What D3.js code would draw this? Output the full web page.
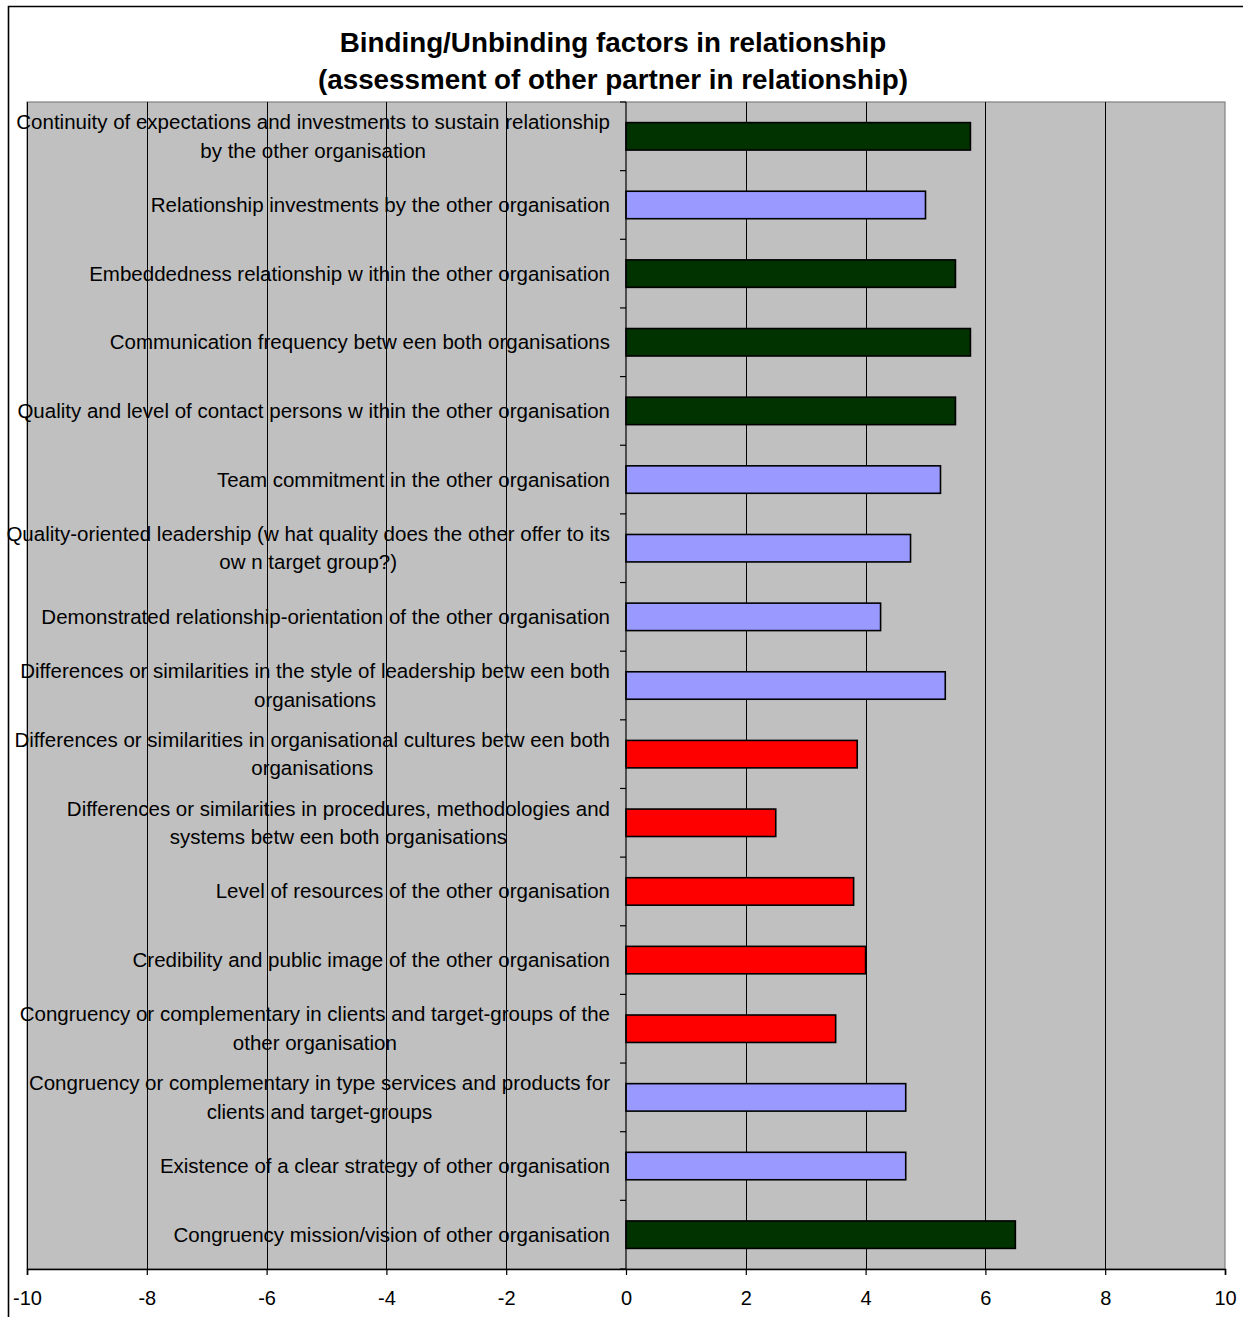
<!DOCTYPE html>
<html>
<head>
<meta charset="utf-8">
<script src="https://cdn.jsdelivr.net/npm/d3@7"></script>
<style>
  body { margin: 0; background: #fff; }
  svg { display: block; font-family: Arial, "Liberation Sans", sans-serif; }
  .grid line { stroke: #000; stroke-width: 1; }
  .bar { stroke: #000; stroke-width: 1.6; }
  .cat { font-size: 20.5px; fill: #000; }
  .tick-label { font-size: 20px; fill: #000; }
  .title { font-size: 27.8px; font-weight: bold; fill: #000; }
</style>
</head>
<body>
<div id="chart"></div>
<script>
// categories, top to bottom ("\n" marks line break as in the original)
var categories = [
  "Continuity of expectations and investments to sustain relationship\nby the other organisation",
  "Relationship investments by the other organisation",
  "Embeddedness relationship w ithin the other organisation",
  "Communication frequency betw een both organisations",
  "Quality and level of contact persons w ithin the other organisation",
  "Team commitment in the other organisation",
  "Quality-oriented leadership (w hat quality does the other offer to its\now n target group?)",
  "Demonstrated relationship-orientation of the other organisation",
  "Differences or similarities in the style of leadership betw een both\norganisations",
  "Differences or similarities in organisational cultures betw een both\norganisations",
  "Differences or similarities in procedures, methodologies and\nsystems betw een both organisations",
  "Level of resources of the other organisation",
  "Credibility and public image of the other organisation",
  "Congruency or complementary in clients and target-groups of the\nother organisation",
  "Congruency or complementary in type services and products for\nclients and target-groups",
  "Existence of a clear strategy of other organisation",
  "Congruency mission/vision of other organisation"
];

var values = [5.75, 5.0, 5.5, 5.75, 5.5, 5.25, 4.75, 4.25, 5.33, 3.86, 2.5, 3.8, 4.0, 3.5, 4.67, 4.67, 6.5];

// g = binding (dark green), n = neutral (blue), u = unbinding (red)
var groups = ["g", "n", "g", "g", "g", "n", "n", "n", "n", "u", "u", "u", "u", "u", "n", "n", "g"];
var groupColors = { g: "#003300", n: "#9999FF", u: "#FF0000" };

var xTicks = [-10, -8, -6, -4, -2, 0, 2, 4, 6, 8, 10];
var titleLines = ["Binding/Unbinding factors in relationship", "(assessment of other partner in relationship)"];

var width = 1243, height = 1317;
var plot = { left: 27, right: 1225, top: 102, bottom: 1269 };

var svg = d3.select("#chart").append("svg")
  .attr("width", width)
  .attr("height", height);

// outer frame (top and left edges visible)
svg.append("path")
  .attr("d", "M8.5," + height + "V6.5H" + width)
  .attr("fill", "none")
  .attr("stroke", "#000")
  .attr("stroke-width", 1.6);

svg.selectAll(".title").data(titleLines).enter()
  .append("text")
  .attr("class", "title")
  .attr("x", 613)
  .attr("y", function(d, i) { return 52 + i * 37; })
  .attr("text-anchor", "middle")
  .text(function(d) { return d; });

var x = d3.scaleLinear().domain([-10, 10]).range([plot.left, plot.right]);
var y = d3.scaleBand().domain(d3.range(categories.length)).range([plot.top, plot.bottom]).paddingInner(0.6).paddingOuter(0.3);
var band = d3.scaleBand().domain(d3.range(categories.length)).range([plot.top, plot.bottom]);

// plot background
svg.append("rect")
  .attr("x", plot.left).attr("y", plot.top)
  .attr("width", plot.right - plot.left).attr("height", plot.bottom - plot.top)
  .attr("fill", "#C0C0C0")
  .attr("stroke", "#808080")
  .attr("stroke-width", 1.2);

// vertical gridlines
svg.append("g").attr("class", "grid")
  .selectAll("line").data(xTicks.filter(function(d) { return d !== 0 && d !== 10; })).enter()
  .append("line")
  .attr("x1", function(d) { return Math.round(x(d)) + 0.5; })
  .attr("x2", function(d) { return Math.round(x(d)) + 0.5; })
  .attr("y1", plot.top).attr("y2", plot.bottom);

// category labels
var labels = svg.append("g").selectAll("text").data(categories).enter()
  .append("text")
  .attr("class", "cat")
  .attr("text-anchor", "middle");

labels.each(function(d, i) {
  var lines = d.split("\n");
  var t = d3.select(this);
  var cy = band(i) + band.bandwidth() / 2;
  var lh = 28.5;
  lines.forEach(function(l, j) {
    t.append("tspan")
      .attr("y", cy - (lines.length - 1) * lh / 2 + j * lh + 7)
      .text(l);
  });
  var maxW = 0;
  t.selectAll("tspan").each(function() { maxW = Math.max(maxW, this.getComputedTextLength()); });
  t.selectAll("tspan").attr("x", 610 - maxW / 2);
});

// bars
svg.append("g").selectAll("rect").data(values).enter()
  .append("rect")
  .attr("class", "bar")
  .attr("x", x(0))
  .attr("y", function(d, i) { return y(i); })
  .attr("width", function(d) { return x(d) - x(0); })
  .attr("height", y.bandwidth())
  .attr("fill", function(d, i) { return groupColors[groups[i]]; });

// zero axis with category ticks
var yAxis = svg.append("g");
yAxis.append("line")
  .attr("x1", x(0)).attr("x2", x(0))
  .attr("y1", plot.top).attr("y2", plot.bottom)
  .attr("stroke", "#000").attr("stroke-width", 1.2);
yAxis.selectAll(".ytick").data(d3.range(categories.length + 1)).enter()
  .append("line")
  .attr("x1", x(0) - 6).attr("x2", x(0))
  .attr("y1", function(d) { return d < categories.length ? band(d) : plot.bottom; })
  .attr("y2", function(d) { return d < categories.length ? band(d) : plot.bottom; })
  .attr("stroke", "#000").attr("stroke-width", 1.2);

// x axis
var xAxis = d3.axisBottom(x).tickValues(xTicks).tickSize(6).tickPadding(16).tickFormat(d3.format("d"));
var gx = svg.append("g")
  .attr("transform", "translate(0," + plot.bottom + ")")
  .call(xAxis);
gx.select(".domain").attr("stroke", "#000").attr("stroke-width", 1.6);
gx.selectAll(".tick line").attr("stroke", "#000").attr("stroke-width", 1.2);
gx.selectAll(".tick text").attr("class", "tick-label").attr("font-size", null).attr("font-family", null)
  .text(function(d) { return d < 0 ? "-" + Math.abs(d) : d; });
</script>
</body>
</html>
